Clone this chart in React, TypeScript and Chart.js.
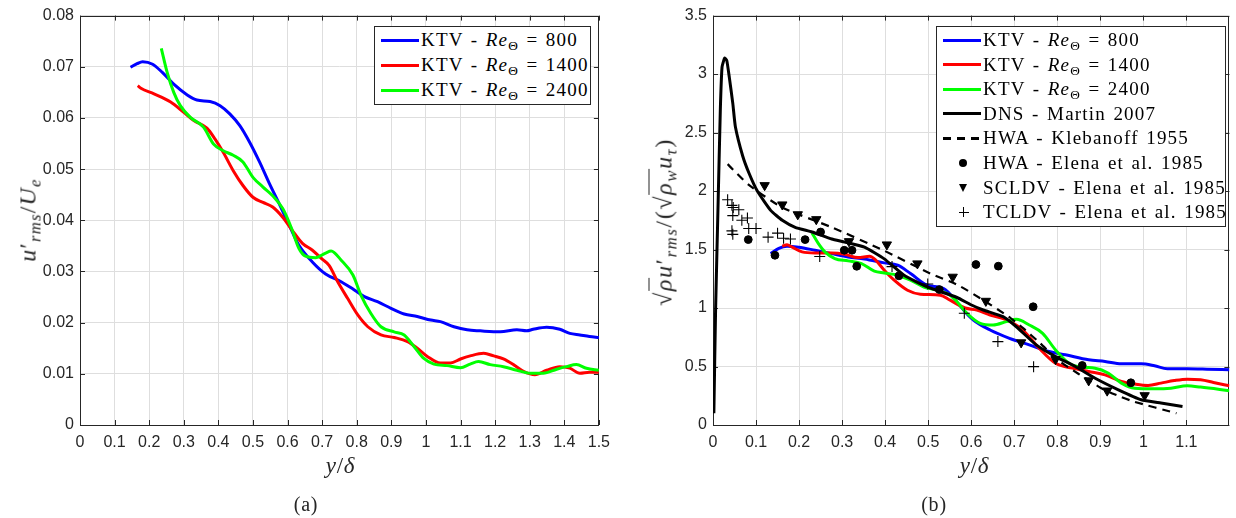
import React, { useEffect, useRef } from 'react';
import { Chart, registerables } from 'chart.js';
Chart.register(...registerables);

// ---------- data: panel (a) ----------
const ktv800A: [number, number][] = [[0.146,0.0699],[0.165,0.0706],[0.181,0.0710],[0.21,0.0705],[0.238,0.0689],[0.271,0.0666],[0.31,0.0645],[0.338,0.0635],[0.376,0.0632],[0.405,0.0624],[0.433,0.0608],[0.462,0.0585],[0.49,0.0553],[0.519,0.0514],[0.548,0.0471],[0.576,0.0432],[0.605,0.039],[0.633,0.0351],[0.671,0.0319],[0.71,0.0295],[0.755,0.028],[0.793,0.0264],[0.822,0.0251],[0.86,0.0241],[0.899,0.0228],[0.937,0.0217],[0.975,0.0212],[1.014,0.0205],[1.042,0.0202],[1.081,0.0192],[1.119,0.0186],[1.157,0.0184],[1.215,0.0182],[1.263,0.0186],[1.291,0.0184],[1.31,0.0187],[1.349,0.0191],[1.387,0.0187],[1.416,0.0179],[1.445,0.0176],[1.473,0.0173],[1.5,0.0171]];
const ktv1400A: [number, number][] = [[0.167,0.0663],[0.176,0.0658],[0.214,0.0647],[0.262,0.0631],[0.3,0.0611],[0.329,0.0595],[0.367,0.058],[0.39,0.0559],[0.414,0.0533],[0.443,0.0497],[0.471,0.0468],[0.5,0.0445],[0.529,0.0435],[0.557,0.0426],[0.586,0.0406],[0.614,0.038],[0.643,0.0355],[0.671,0.0342],[0.7,0.0324],[0.72,0.0312],[0.745,0.028],[0.774,0.0247],[0.803,0.0215],[0.832,0.0192],[0.87,0.0176],[0.908,0.0171],[0.947,0.0163],[0.975,0.015],[1.004,0.0134],[1.042,0.0121],[1.071,0.0121],[1.1,0.0129],[1.128,0.0135],[1.167,0.014],[1.196,0.0135],[1.224,0.0129],[1.253,0.0118],[1.282,0.0105],[1.315,0.0098],[1.349,0.0107],[1.387,0.0114],[1.416,0.0111],[1.445,0.0101],[1.473,0.0103],[1.5,0.0103]];
const ktv2400A: [number, number][] = [[0.235,0.0736],[0.252,0.0689],[0.271,0.065],[0.29,0.0624],[0.319,0.0601],[0.357,0.0582],[0.386,0.0549],[0.414,0.0536],[0.443,0.0527],[0.471,0.0514],[0.5,0.0484],[0.529,0.0465],[0.557,0.0448],[0.586,0.0423],[0.61,0.0387],[0.633,0.0345],[0.652,0.033],[0.681,0.0327],[0.71,0.0336],[0.726,0.034],[0.755,0.0322],[0.789,0.0293],[0.812,0.0254],[0.841,0.0218],[0.87,0.0192],[0.908,0.0182],[0.937,0.0176],[0.966,0.0153],[0.994,0.013],[1.023,0.0119],[1.061,0.0116],[1.1,0.0112],[1.128,0.0119],[1.152,0.0124],[1.186,0.0118],[1.224,0.0114],[1.263,0.0107],[1.301,0.0101],[1.339,0.0101],[1.378,0.0109],[1.406,0.0114],[1.435,0.0118],[1.464,0.0111],[1.5,0.0107]];

// ---------- data: panel (b) ----------
const ktv800B: [number, number][] = [[0.134,1.465],[0.153,1.51],[0.172,1.528],[0.199,1.52],[0.237,1.494],[0.276,1.465],[0.314,1.437],[0.352,1.42],[0.398,1.386],[0.429,1.366],[0.459,1.295],[0.498,1.195],[0.536,1.166],[0.567,1.05],[0.586,0.967],[0.605,0.898],[0.644,0.812],[0.689,0.741],[0.735,0.685],[0.781,0.628],[0.819,0.6],[0.873,0.557],[0.911,0.543],[0.949,0.523],[0.995,0.523],[1.026,0.506],[1.056,0.48],[1.102,0.48],[1.148,0.477],[1.2,0.472]];
const ktv1400B: [number, number][] = [[0.161,1.528],[0.172,1.54],[0.184,1.52],[0.207,1.48],[0.237,1.471],[0.276,1.471],[0.306,1.46],[0.337,1.431],[0.364,1.443],[0.375,1.42],[0.398,1.323],[0.421,1.238],[0.452,1.152],[0.482,1.118],[0.528,1.11],[0.551,1.067],[0.586,1.0],[0.613,0.983],[0.644,0.94],[0.682,0.898],[0.72,0.812],[0.758,0.656],[0.796,0.528],[0.835,0.486],[0.873,0.457],[0.911,0.429],[0.949,0.372],[0.98,0.35],[1.011,0.338],[1.041,0.358],[1.072,0.38],[1.102,0.392],[1.133,0.386],[1.163,0.364],[1.2,0.335]];
const ktv2400B: [number, number][] = [[0.23,1.642],[0.245,1.55],[0.26,1.48],[0.283,1.423],[0.314,1.403],[0.345,1.38],[0.375,1.315],[0.398,1.3],[0.429,1.28],[0.459,1.238],[0.49,1.18],[0.521,1.152],[0.551,1.11],[0.567,1.054],[0.59,0.955],[0.621,0.869],[0.651,0.855],[0.682,0.884],[0.705,0.903],[0.735,0.855],[0.766,0.784],[0.796,0.642],[0.827,0.528],[0.858,0.494],[0.888,0.486],[0.919,0.443],[0.949,0.358],[0.98,0.315],[1.026,0.31],[1.064,0.315],[1.102,0.335],[1.133,0.324],[1.2,0.293]];
const dnsMartin: [number, number][] = [[0.002,0.1],[0.006,0.98],[0.0115,1.84],[0.017,2.69],[0.021,3.06],[0.027,3.136],[0.032,3.116],[0.038,2.97],[0.046,2.75],[0.052,2.55],[0.069,2.3],[0.084,2.15],[0.103,2.0],[0.134,1.835],[0.161,1.75],[0.191,1.69],[0.23,1.65],[0.276,1.59],[0.306,1.565],[0.352,1.52],[0.398,1.42],[0.444,1.28],[0.498,1.18],[0.567,1.09],[0.598,1.03],[0.628,0.983],[0.674,0.926],[0.705,0.84],[0.751,0.685],[0.796,0.585],[0.842,0.5],[0.888,0.4],[0.942,0.301],[0.995,0.216],[1.041,0.188],[1.091,0.159]];
const hwaKlebanoff: [number, number][] = [[0.034,2.23],[0.084,2.05],[0.161,1.86],[0.276,1.69],[0.398,1.49],[0.505,1.295],[0.567,1.2],[0.627,1.07],[0.687,0.926],[0.72,0.83],[0.76,0.7],[0.8,0.56],[0.848,0.44],[0.878,0.37],[0.909,0.3],[0.947,0.242],[0.978,0.2],[1.077,0.1]];
const hwaElena: [number, number][] = [[0.082,1.585],[0.144,1.451],[0.214,1.585],[0.25,1.65],[0.305,1.494],[0.323,1.494],[0.334,1.357],[0.432,1.275],[0.526,1.158],[0.611,1.372],[0.663,1.358],[0.744,1.011],[0.858,0.509],[0.971,0.361]];
const scldvElena: [number, number][] = [[0.12,2.049],[0.161,1.884],[0.197,1.8],[0.24,1.758],[0.316,1.57],[0.404,1.542],[0.475,1.38],[0.557,1.266],[0.634,1.06],[0.716,0.705],[0.796,0.562],[0.873,0.38],[0.916,0.293],[1.003,0.253]];
const tcldvElena: [number, number][] = [[0.034,1.926],[0.044,1.878],[0.047,1.86],[0.06,1.84],[0.046,1.79],[0.067,1.75],[0.08,1.77],[0.083,1.68],[0.1,1.68],[0.044,1.66],[0.046,1.63],[0.128,1.606],[0.15,1.64],[0.164,1.597],[0.18,1.59],[0.248,1.44],[0.416,1.354],[0.499,1.206],[0.584,0.955],[0.662,0.713],[0.745,0.499]];

// ---------- tick labels ----------
const xTicksA = [0,0.1,0.2,0.3,0.4,0.5,0.6,0.7,0.8,0.9,1,1.1,1.2,1.3,1.4,1.5];
const yTicksA = [0,0.01,0.02,0.03,0.04,0.05,0.06,0.07,0.08];
const xTicksB = [0,0.1,0.2,0.3,0.4,0.5,0.6,0.7,0.8,0.9,1,1.1];
const yTicksB = [0,0.5,1,1.5,2,2.5,3,3.5];

const AXIS = '#262626';
const GRID = '#dedede';
const TICK_FONT = { family: "'Liberation Sans', Arial, sans-serif", size: 16 };
const SERIF = "'Liberation Serif', 'Times New Roman', serif";

const boxPlugin = {
  id: 'matlabBox',
  beforeDatasetsDraw(chart: any) {
    const { ctx, chartArea: a, scales } = chart;
    ctx.save();
    ctx.strokeStyle = AXIS;
    ctx.lineWidth = 1;
    ctx.beginPath();
    scales.x.ticks.forEach((t: any) => {
      const px = Math.round(scales.x.getPixelForValue(t.value)) + 0.5;
      ctx.moveTo(px, a.bottom); ctx.lineTo(px, a.bottom - 5);
      ctx.moveTo(px, a.top); ctx.lineTo(px, a.top + 5);
    });
    scales.y.ticks.forEach((t: any) => {
      const py = Math.round(scales.y.getPixelForValue(t.value)) + 0.5;
      ctx.moveTo(a.left, py); ctx.lineTo(a.left + 5, py);
      ctx.moveTo(a.right, py); ctx.lineTo(a.right - 5, py);
    });
    ctx.stroke();
    ctx.strokeRect(Math.round(a.left) + 0.5, Math.round(a.top) + 0.5, Math.round(a.right - a.left) - 1, Math.round(a.bottom - a.top));
    ctx.restore();
  },
};

const toXY = (pts: [number, number][]) => pts.map(([x, y]) => ({ x, y }));
const lineDs = (label: string, pts: [number, number][], color: string, order: number, extra: any = {}) => ({
  label, data: toXY(pts), borderColor: color, backgroundColor: color, borderWidth: 3,
  pointRadius: 0, showLine: true, fill: false, order, cubicInterpolationMode: 'monotone', ...extra,
});
const markerDs = (label: string, pts: [number, number][], style: string, radius: number, order: number, extra: any = {}) => ({
  label, data: toXY(pts), showLine: false, pointStyle: style, pointRadius: radius,
  borderColor: '#000', backgroundColor: '#000', pointBorderWidth: 1, order, ...extra,
});

const fmtX = (hideLast: number | null) => (v: any) => {
  const r = Math.round(Number(v) * 10) / 10;
  if (hideLast !== null && r >= hideLast) return '';
  return String(r);
};

const baseOptions = (xMax: number, yMax: number, yW: number, padRight: number, xFmt: any, yFmt: any, xt: number[], yt: number[]) => ({
  responsive: false,
  maintainAspectRatio: false,
  animation: false,
  events: [],
  layout: { padding: { left: 0, right: padRight, top: 15, bottom: 0 } },
  plugins: { legend: { display: false }, tooltip: { enabled: false } },
  scales: {
    x: {
      type: 'linear', min: 0, max: xMax,
      afterBuildTicks: (s: any) => { s.ticks = xt.map((v) => ({ value: v })); },
      afterFit: (s: any) => { s.height = 93; },
      grid: { color: GRID, drawTicks: false },
      border: { display: false },
      ticks: { font: TICK_FONT, color: AXIS, padding: 8, maxRotation: 0, autoSkip: false, callback: xFmt },
    },
    y: {
      type: 'linear', min: 0, max: yMax,
      afterBuildTicks: (s: any) => { s.ticks = yt.map((v) => ({ value: v })); },
      afterFit: (s: any) => { s.width = yW; },
      grid: { color: GRID, drawTicks: false },
      border: { display: false },
      ticks: { font: TICK_FONT, color: AXIS, padding: 6, autoSkip: false, callback: yFmt },
    },
  },
});

const sub = (t: React.ReactNode, italic = true) => (
  <span style={{ fontSize: '0.7em', position: 'relative', top: '0.3em', fontStyle: italic ? 'italic' : 'normal' }}>{t}</span>
);

const ReTheta = ({ n }: { n: string }) => (
  <span>KTV - <i>Re</i>{sub('Θ', false)} = {n}</span>
);

type Entry = { kind: 'line' | 'dash' | 'dot' | 'tri' | 'plus'; color: string; text: React.ReactNode };

const Legend = ({ left, top, width, height, entries, step }: { left: number; top: number; width: number; height: number; entries: Entry[]; step: number }) => (
  <div style={{ position: 'absolute', left, top, width, height, border: '1px solid ' + AXIS, background: '#fff', boxSizing: 'border-box' }}>
    {entries.map((e, i) => {
      const cy = 13 + step * i;
      let sample: React.ReactNode = null;
      if (e.kind === 'line') sample = <div style={{ position: 'absolute', left: 6, top: cy - 1.5, width: 38, height: 3, background: e.color }} />;
      if (e.kind === 'dash') sample = (
        <>
          {[6, 20, 34].map((x) => <div key={x} style={{ position: 'absolute', left: x, top: cy - 1, width: 8, height: 2.5, background: '#000' }} />)}
        </>
      );
      if (e.kind === 'dot') sample = <div style={{ position: 'absolute', left: 22, top: cy - 4, width: 8, height: 8, borderRadius: '50%', background: '#000' }} />;
      if (e.kind === 'tri') sample = <div style={{ position: 'absolute', left: 21.5, top: cy - 4, width: 0, height: 0, borderLeft: '4.5px solid transparent', borderRight: '4.5px solid transparent', borderTop: '8px solid #000' }} />;
      if (e.kind === 'plus') sample = (
        <>
          <div style={{ position: 'absolute', left: 21.5, top: cy - 0.5, width: 10, height: 1.2, background: '#000' }} />
          <div style={{ position: 'absolute', left: 26, top: cy - 5, width: 1.2, height: 10, background: '#000' }} />
        </>
      );
      return (
        <React.Fragment key={i}>
          {sample}
          <div style={{ position: 'absolute', left: 46, top: cy - 12, height: 24, lineHeight: '24px', whiteSpace: 'nowrap', fontFamily: SERIF, fontSize: 19, letterSpacing: 1.2, wordSpacing: 1.5, color: '#000' }}>{e.text}</div>
        </React.Fragment>
      );
    })}
  </div>
);

const textStyle = (cx: number, cy: number, size: number, rotate = false, ls = 0.8): React.CSSProperties => ({
  position: 'absolute', left: cx, top: cy, transform: `translate(-50%, -50%)${rotate ? ' rotate(-90deg)' : ''}`,
  fontFamily: SERIF, fontSize: size, whiteSpace: 'nowrap', color: AXIS, letterSpacing: ls,
});

export default function App() {
  const refA = useRef<HTMLCanvasElement>(null);
  const refB = useRef<HTMLCanvasElement>(null);

  useEffect(() => {
    const chartA = new Chart(refA.current as HTMLCanvasElement, {
      type: 'scatter',
      data: {
        datasets: [
          lineDs('KTV - Re 800', ktv800A, '#0000ff', 6),
          lineDs('KTV - Re 1400', ktv1400A, '#ff0000', 5),
          lineDs('KTV - Re 2400', ktv2400A, '#00ff00', 4),
        ] as any,
      },
      options: baseOptions(1.5, 0.08, 80, 17, fmtX(null), (v: any) => (Number(v) === 0 ? '0' : Number(v).toFixed(2)), xTicksA, yTicksA) as any,
      plugins: [boxPlugin],
    });
    const chartB = new Chart(refB.current as HTMLCanvasElement, {
      type: 'scatter',
      data: {
        datasets: [
          markerDs('TCLDV - Elena et al. 1985', tcldvElena, 'cross', 5.5, 1, { pointBorderWidth: 1.1 }),
          markerDs('SCLDV - Elena et al. 1985', scldvElena, 'triangle', 5.4, 1, { pointRotation: 180 }),
          markerDs('HWA - Elena et al. 1985', hwaElena, 'circle', 3.9, 1),
          lineDs('HWA - Klebanoff 1955', hwaKlebanoff, '#000', 2, { borderWidth: 2.2, borderDash: [8, 6], cubicInterpolationMode: 'default', tension: 0.2 }),
          lineDs('DNS - Martin 2007', dnsMartin, '#000', 3, { cubicInterpolationMode: 'default', tension: 0.15 }),
          lineDs('KTV - Re 2400', ktv2400B, '#00ff00', 4),
          lineDs('KTV - Re 1400', ktv1400B, '#ff0000', 5),
          lineDs('KTV - Re 800', ktv800B, '#0000ff', 6),
        ] as any,
      },
      options: baseOptions(1.2, 3.5, 95, 0, fmtX(1.15), (v: any) => String(Math.round(Number(v) * 10) / 10), xTicksB, yTicksB) as any,
      plugins: [boxPlugin],
    });
    return () => { chartA.destroy(); chartB.destroy(); };
  }, []);

  const legendA: Entry[] = [
    { kind: 'line', color: '#0000ff', text: <ReTheta n="800" /> },
    { kind: 'line', color: '#ff0000', text: <ReTheta n="1400" /> },
    { kind: 'line', color: '#00ff00', text: <ReTheta n="2400" /> },
  ];
  const legendB: Entry[] = [
    ...legendA,
    { kind: 'line', color: '#000', text: 'DNS - Martin 2007' },
    { kind: 'dash', color: '#000', text: 'HWA - Klebanoff 1955' },
    { kind: 'dot', color: '#000', text: 'HWA - Elena et al. 1985' },
    { kind: 'tri', color: '#000', text: 'SCLDV - Elena et al. 1985' },
    { kind: 'plus', color: '#000', text: 'TCLDV - Elena et al. 1985' },
  ];

  const sqrtOver = (c: React.ReactNode) => (
    <span>√<span style={{ borderTop: '1.5px solid ' + AXIS, paddingTop: 1 }}>{c}</span></span>
  );

  return (
    <div style={{ position: 'fixed', left: 0, top: 0, width: 1236, height: 518, background: '#fff', overflow: 'hidden' }}>
      <canvas ref={refA} width={618} height={518} style={{ position: 'absolute', left: 0, top: 0 }} />
      <canvas ref={refB} width={618} height={518} style={{ position: 'absolute', left: 618, top: 0 }} />
      <Legend left={374} top={26} width={217} height={79} entries={legendA} step={25} />
      <Legend left={936} top={26} width={290} height={201} entries={legendB} step={24.6} />
      <div style={textStyle(28, 220, 24, true, 1.2)}><i>u</i>′{sub('rms')}/<i>U</i>{sub('e')}</div>
      <div style={textStyle(664, 222, 24, true, 1.6)}>{sqrtOver(<i>ρ</i>)}<i>u</i>′{sub('rms')}/({sqrtOver(<span><i>ρ</i>{sub('w')}</span>)}<i>u</i>{sub('τ')})</div>
      <div style={textStyle(340.5, 466, 23)}><i>y</i>/<i>δ</i></div>
      <div style={textStyle(974.5, 466, 23)}><i>y</i>/<i>δ</i></div>
      <div style={textStyle(306, 504, 20)}>(a)</div>
      <div style={textStyle(934, 504, 20)}>(b)</div>
    </div>
  );
}
